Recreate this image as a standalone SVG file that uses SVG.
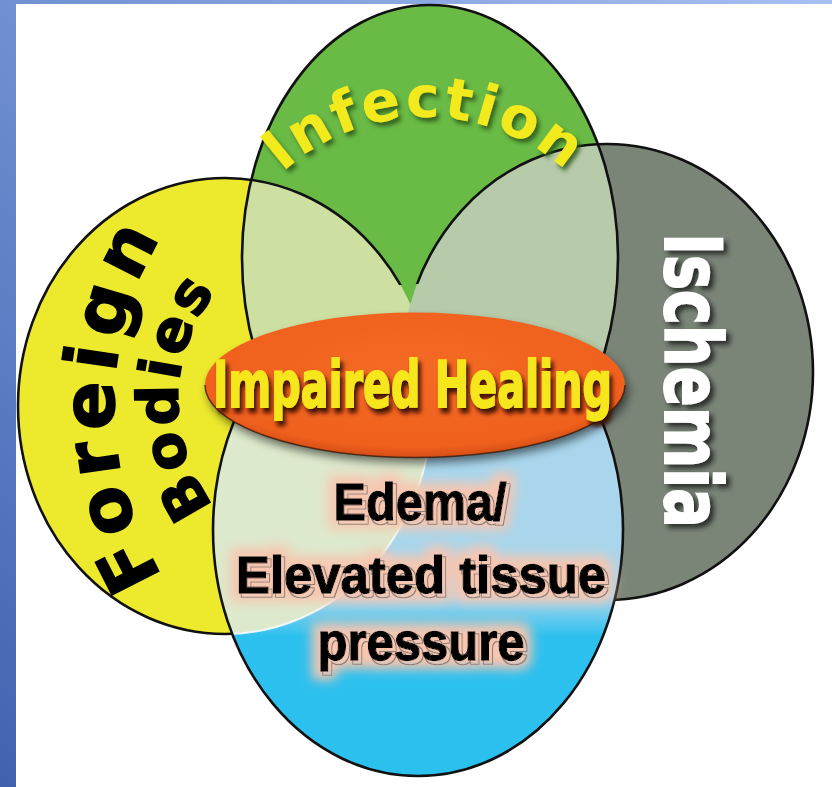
<svg xmlns="http://www.w3.org/2000/svg" width="832" height="787" viewBox="0 0 832 787">
<defs>
  <linearGradient id="bg" gradientUnits="userSpaceOnUse" x1="832" y1="0" x2="0" y2="787">
    <stop offset="0" stop-color="#a8c0f2"/>
    <stop offset="0.53" stop-color="#7090d2"/>
    <stop offset="1" stop-color="#4262b0"/>
  </linearGradient>
  <linearGradient id="lb" gradientUnits="userSpaceOnUse" x1="0" y1="380" x2="0" y2="650">
    <stop offset="0" stop-color="#a9d6ec"/>
    <stop offset="0.8" stop-color="#a9d6ec"/>
    <stop offset="0.95" stop-color="#2cc0ef"/>
  </linearGradient>
  <radialGradient id="og" cx="0.5" cy="0.4" r="0.62">
    <stop offset="0" stop-color="#f46a24"/>
    <stop offset="0.85" stop-color="#ef601d"/>
    <stop offset="1" stop-color="#cf4812"/>
  </radialGradient>
  <clipPath id="cYellow"><ellipse cx="225" cy="406" rx="207" ry="228"/></clipPath>
  <clipPath id="cGray"><ellipse cx="607" cy="372" rx="206" ry="228"/></clipPath>
  <clipPath id="cBlue"><ellipse cx="418" cy="530" rx="205" ry="246"/></clipPath>
  <clipPath id="cNotBlue"><path clip-rule="evenodd" d="M0,0H832V787H0Z M213,530 A205,246 0 1,0 623,530 A205,246 0 1,0 213,530 Z"/></clipPath>
  <clipPath id="cLower"><rect x="0" y="380" width="832" height="407"/></clipPath>
  <clipPath id="cUpper"><rect x="0" y="0" width="832" height="400"/></clipPath>
  <filter id="ellShadow" x="-10%" y="-20%" width="120%" height="160%"><feGaussianBlur stdDeviation="5"/></filter>
  <filter id="shIH" x="-10%" y="-30%" width="120%" height="170%"><feDropShadow dx="3" dy="5" stdDeviation="2" flood-color="#3a0e00" flood-opacity="0.95"/></filter>
  <filter id="shInf" x="-10%" y="-30%" width="120%" height="170%"><feDropShadow dx="3" dy="4" stdDeviation="2" flood-color="#2c5416" flood-opacity="0.85"/></filter>
  <filter id="shIsc" x="-30%" y="-10%" width="170%" height="120%"><feDropShadow dx="4" dy="4" stdDeviation="2.5" flood-color="#222" flood-opacity="0.85"/></filter>
  <filter id="edFx" x="-20%" y="-60%" width="140%" height="220%">
    <feMorphology in="SourceAlpha" operator="dilate" radius="8" result="d"/>
    <feGaussianBlur in="d" stdDeviation="6" result="db"/>
    <feFlood flood-color="#f7c6b0"/>
    <feComposite in2="db" operator="in" result="glow"/>
    <feOffset in="SourceAlpha" dx="3" dy="3" result="off"/>
    <feMorphology in="off" operator="dilate" radius="1" result="offd"/>
    <feComposite in="offd" in2="off" operator="out" result="ring"/>
    <feFlood flood-color="#8a7d77"/>
    <feComposite in2="ring" operator="in" result="ghost"/>
    <feMerge><feMergeNode in="glow"/><feMergeNode in="ghost"/><feMergeNode in="SourceGraphic"/></feMerge>
  </filter>
  <path id="infPath" d="M263.4,192.4 A211,211 0 0,1 586.6,192.4"/>
  <path id="forPath" d="M173,592 A326,326 0 0,1 190.3,195.5"/>
  <path id="bodPath" d="M218.7,511.8 A174,174 0 0,1 222.7,283.6"/>
  <style>
    .edge{fill:none;stroke:#111;stroke-width:2.6}
    .heavy{font-family:"DejaVu Sans","Liberation Sans",sans-serif;font-weight:bold}
    .ed{font-family:"Liberation Sans",Arial,sans-serif;font-weight:bold;text-anchor:middle;fill:#000;stroke:#000;stroke-width:1.3}
  </style>
</defs>

<rect x="0" y="0" width="832" height="787" fill="url(#bg)"/>
<rect x="16" y="4" width="816" height="783" fill="#ffffff"/>

<g id="edema-circle"><ellipse cx="418" cy="530" rx="205" ry="246" fill="#2cc0ef"/></g>
<g id="foreign-bodies-circle"><ellipse cx="225" cy="406" rx="207" ry="228" fill="#ede92d"/></g>
<g id="ischemia-circle"><ellipse cx="607" cy="372" rx="206" ry="228" fill="#7a8578"/></g>
<g id="infection-circle"><ellipse cx="430" cy="258" rx="188" ry="253" fill="#6aba46"/></g>

<g id="overlaps">
  <ellipse cx="430" cy="258" rx="188" ry="253" fill="#cde0a1" clip-path="url(#cYellow)"/>
  <ellipse cx="430" cy="258" rx="188" ry="253" fill="#b7caa9" clip-path="url(#cGray)"/>
  <g clip-path="url(#cBlue)"><rect x="0" y="380" width="832" height="270" fill="url(#lb)"/></g>
  <g clip-path="url(#cLower)"><ellipse cx="225" cy="406" rx="207" ry="228" fill="#dde9cc" clip-path="url(#cBlue)"/></g>
  <g clip-path="url(#cLower)"><ellipse cx="225" cy="406" rx="207" ry="228" fill="none" stroke="#ffffff" stroke-opacity="0.8" stroke-width="2" clip-path="url(#cBlue)"/></g>
</g>

<g id="outlines">
  <ellipse class="edge" cx="430" cy="258" rx="188" ry="253" clip-path="url(#cUpper)"/>
  <ellipse class="edge" cx="225" cy="406" rx="207" ry="228" clip-path="url(#cNotBlue)"/>
  <ellipse class="edge" cx="607" cy="372" rx="206" ry="228" clip-path="url(#cNotBlue)"/>
  <ellipse class="edge" cx="418" cy="530" rx="205" ry="246" clip-path="url(#cLower)"/>
</g>

<g id="edema" filter="url(#edFx)">
  <text class="ed" x="420" y="520" font-size="51" textLength="173" lengthAdjust="spacingAndGlyphs">Edema/</text>
  <text class="ed" x="421" y="593" font-size="51" textLength="370" lengthAdjust="spacingAndGlyphs">Elevated tissue</text>
  <text class="ed" x="421" y="660" font-size="51" textLength="207" lengthAdjust="spacingAndGlyphs">pressure</text>
</g>

<g id="impaired-healing">
  <ellipse cx="418" cy="391" rx="210" ry="72" fill="#000" opacity="0.55" filter="url(#ellShadow)"/>
  <ellipse cx="415" cy="385" rx="210" ry="72.5" fill="url(#og)"/>
  <path d="M205,385 A210,72.5 0 0,0 625,385" fill="none" stroke="#3a1a0a" stroke-width="1.5" opacity="0.8"/>
  <g filter="url(#shIH)">
    <text class="heavy" x="213" y="407" font-size="64" fill="#f6e61e" stroke="#f6e61e" stroke-width="1.8" textLength="399" lengthAdjust="spacingAndGlyphs">Impaired Healing</text>
  </g>
</g>

<g id="infection">
  <g filter="url(#shInf)">
    <text class="heavy" font-size="57" fill="#f2ea1f" letter-spacing="3" text-anchor="middle"><textPath href="#infPath" startOffset="50%">Infection</textPath></text>
  </g>
</g>

<g id="foreign-bodies">
  <text class="heavy" font-size="72" fill="#000" stroke="#000" stroke-width="1.5" letter-spacing="8" text-anchor="middle"><textPath href="#forPath" startOffset="47%">Foreign</textPath></text>
  <text class="heavy" font-size="57" fill="#000" stroke="#000" stroke-width="1.5" letter-spacing="3" text-anchor="middle"><textPath href="#bodPath" startOffset="50%">Bodies</textPath></text>
</g>

<g id="ischemia">
  <g filter="url(#shIsc)">
    <text class="heavy" transform="translate(665,233) rotate(90)" x="0" y="0" font-size="78" fill="#ffffff" stroke="#ffffff" stroke-width="2" textLength="295" lengthAdjust="spacingAndGlyphs">Ischemia</text>
  </g>
</g>
</svg>
